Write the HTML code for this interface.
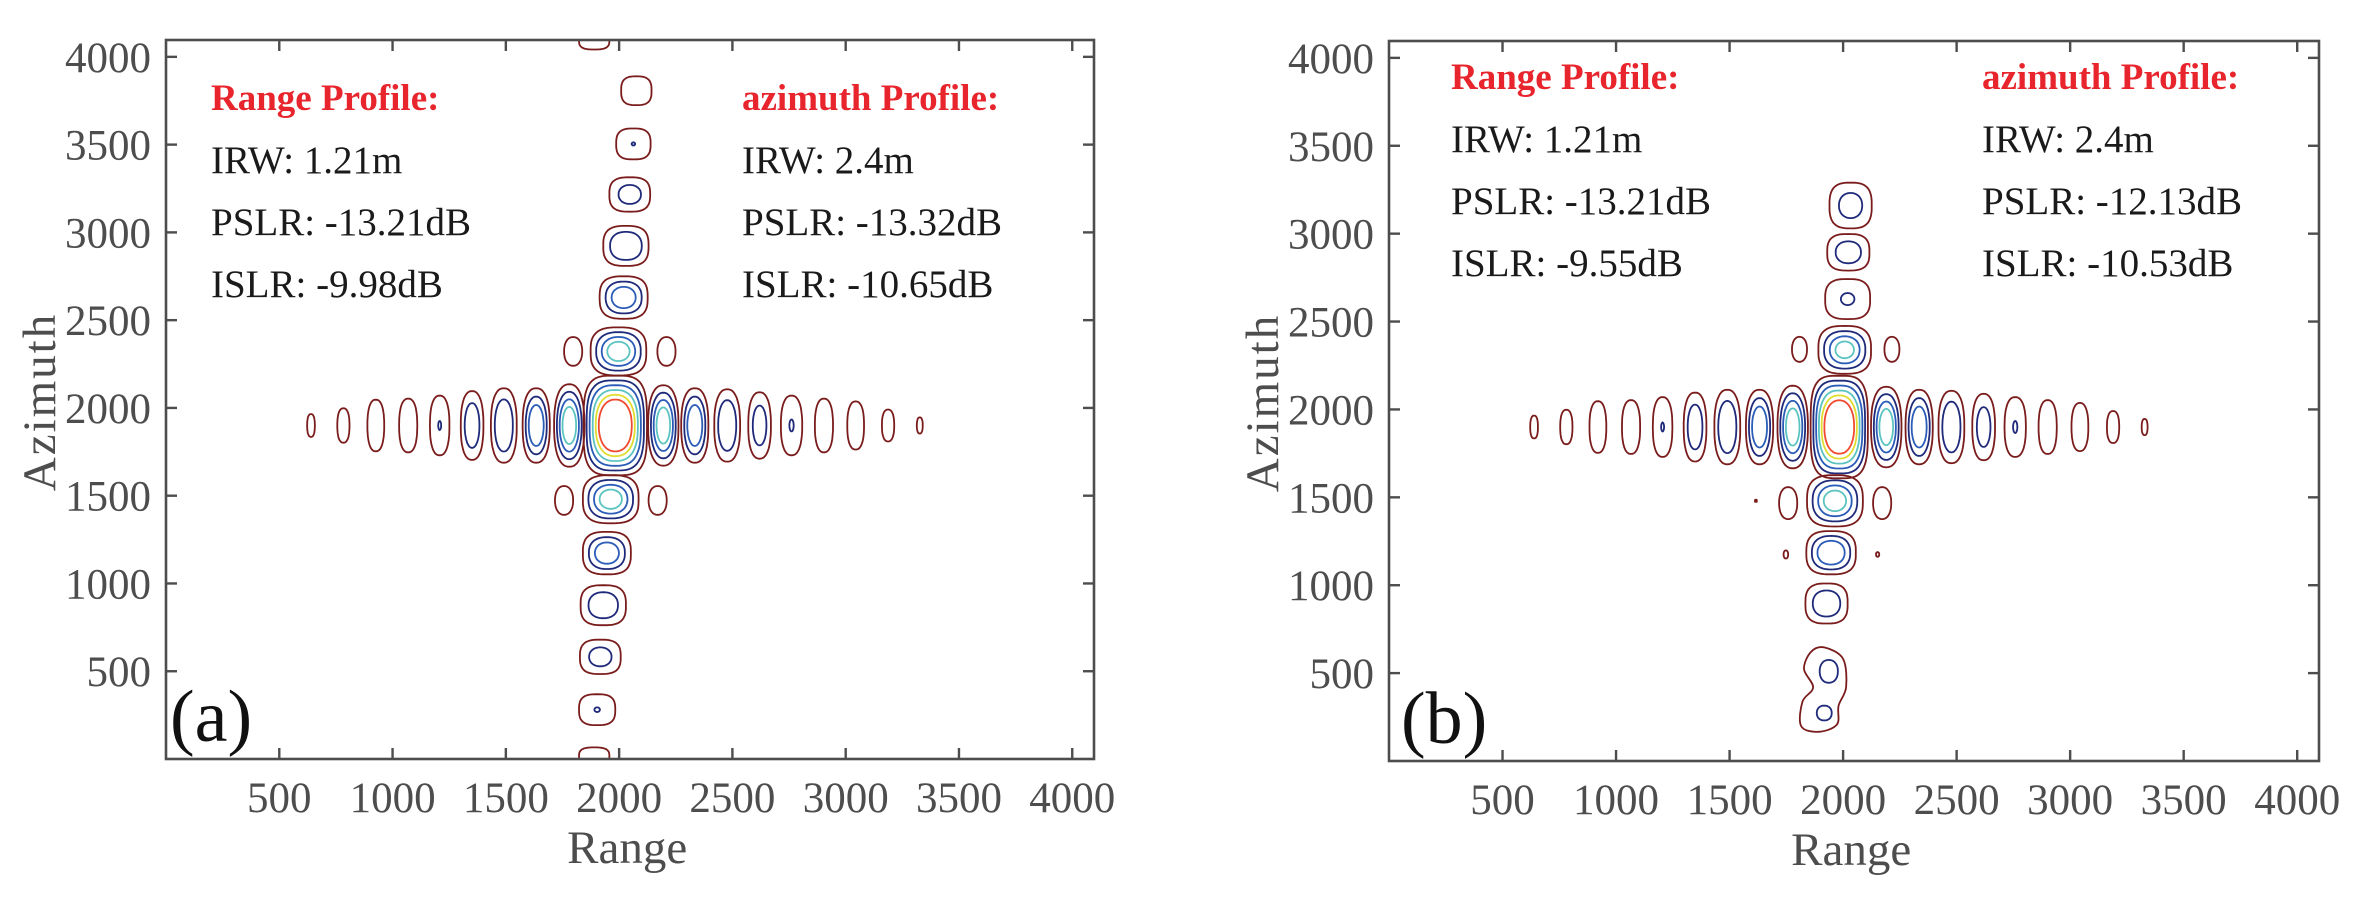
<!DOCTYPE html>
<html><head><meta charset="utf-8">
<style>
html,body{margin:0;padding:0;background:#fff;}
svg{display:block;}
text{font-family:"Liberation Serif",serif;}
</style></head>
<body>
<svg id="fig" width="2364" height="899" viewBox="0 0 2364 899" xmlns="http://www.w3.org/2000/svg"></svg>
<script>
// ---- Panel (a) data ----
const hX_a=[640,783,926,1069,1208,1351,1491,1634,1780,1983,2195,2334,2477,2620,2761,2904,3044,3187,3327];
const hY_a=[1900,1900,1900,1900,1900,1900,1900,1900,1900,1900,1900,1900,1900,1900,1900,1900,1900,1900,1900];
const hRX_a=[17,27,37,40,43,50,57,60,67,140,67,60,57,50,47,40,37,27,13];
const hRY_a=[65,98,147,153,170,196,212,212,235,284,229,212,206,189,170,153,137,91,46];
const hLev_a=[1,1,1,1,2,2,2,3,4,6,4,3,2,2,2,1,1,1,1];
const hIn_a=[1,1,1,1,0.15,0.65,0.7,0.55,0.45,0.52,0.45,0.55,0.7,0.6,0.2,1,1,1,1];
const vX_a=[1890,2076,2063,2047,2030,2020,1997,1963,1946,1930,1917,1903,1890];
const vY_a=[4091,3807,3504,3216,2923,2629,2322,1480,1173,876,582,281,17];
const vRX_a=[67,67,76,90,100,106,123,123,106,100,90,80,67];
const vRY_a=[49,82,88,98,114,121,137,137,121,114,98,88,49];
const vLev_a=[1,1,2,2,2,3,4,4,3,2,2,2,1];
const vIn_a=[1,1,0.1,0.55,0.7,0.5,0.4,0.4,0.5,0.65,0.55,0.15,1];
const sX_a=[1797,2209,1757,2170];
const sY_a=[2322,2322,1473,1473];
const sRX_a=[40,40,40,40];
const sRY_a=[82,82,82,82];
// ---- Panel (b) data ----
const hX_b=[639,781,920,1066,1205,1348,1490,1632,1778,1983,2190,2335,2477,2619,2758,2901,3043,3189,3328];
const hY_b=[1900,1900,1900,1900,1900,1900,1900,1900,1900,1900,1900,1900,1900,1900,1900,1900,1900,1900,1900];
const hRX_b=[17,27,37,40,43,50,57,60,67,126,67,60,57,50,47,40,37,27,13];
const hRY_b=[65,98,147,153,170,196,212,212,235,292,229,212,206,189,170,153,137,91,46];
const hLev_b=[1,1,1,1,2,2,2,3,4,6,4,3,2,2,2,1,1,1,1];
const hIn_b=[1,1,1,1,0.15,0.65,0.7,0.55,0.45,0.52,0.45,0.55,0.7,0.6,0.2,1,1,1,1];
const vX_b=[2033,2023,2020,2007,1964,1947,1927];
const vY_b=[3160,2894,2628,2339,1480,1185,896];
const vRX_b=[93,93,99,116,123,109,93];
const vRY_b=[130,104,114,136,146,123,114];
const vLev_b=[2,2,2,4,4,3,2];
const vIn_b=[0.55,0.6,0.3,0.35,0.4,0.55,0.65];
const sX_b=[1808,2215,1758,2172,1748,2152,1616];
const sY_b=[2342,2342,1467,1467,1175,1175,1480];
const sRX_b=[33,33,40,40,10,7,4];
const sRY_b=[71,71,91,91,23,13,6];
const blobX_b=[1917,2000,2013,1980,1973,1891,1815,1821,1868,1828,1858];
const blobY_b=[646,581,419,315,208,166,199,338,419,523,620];
const blobInX_b=[1937,1917];
const blobInY_b=[510,273];
const blobInRX_b=[40,33];
const blobInRY_b=[65,42];
const xTicks=[500,1000,1500,2000,2500,3000,3500,4000];
const yTicks=[500,1000,1500,2000,2500,3000,3500,4000];
const textA={range:["IRW: 1.21m","PSLR: -13.21dB","ISLR: -9.98dB"],az:["IRW: 2.4m","PSLR: -13.32dB","ISLR: -10.65dB"]};
const textB={range:["IRW: 1.21m","PSLR: -13.21dB","ISLR: -9.55dB"],az:["IRW: 2.4m","PSLR: -12.13dB","ISLR: -10.53dB"]};

const NS="http://www.w3.org/2000/svg";
const svg=document.getElementById('fig');
const COLORS=['#7a1c1c','#1f2a7a','#2a5cb8','#5cc4c0','#e0dc30','#f04a30'];
function mk(tag,attrs,parent){const e=document.createElementNS(NS,tag);for(const k in attrs)e.setAttribute(k,attrs[k]);(parent||svg).appendChild(e);return e;}

function superPath(cx,cy,rx,ry,p){
  let d='';const N=72;
  for(let i=0;i<=N;i++){const t=i/N*2*Math.PI;const c=Math.cos(t),s=Math.sin(t);
    const x=cx+rx*Math.sign(c)*Math.pow(Math.abs(c),2/p);
    const y=cy+ry*Math.sign(s)*Math.pow(Math.abs(s),2/p);
    d+=(i?'L':'M')+x.toFixed(1)+','+y.toFixed(1);}
  return d+'Z';
}
function catmull(pts){
  let d='';const n=pts.length;
  for(let i=0;i<n;i++){const p0=pts[(i-1+n)%n],p1=pts[i],p2=pts[(i+1)%n],p3=pts[(i+2)%n];
    if(i===0)d+='M'+p1[0].toFixed(1)+','+p1[1].toFixed(1);
    const c1=[p1[0]+(p2[0]-p0[0])/6,p1[1]+(p2[1]-p0[1])/6],c2=[p2[0]-(p3[0]-p1[0])/6,p2[1]-(p3[1]-p1[1])/6];
    d+='C'+c1[0].toFixed(1)+','+c1[1].toFixed(1)+' '+c2[0].toFixed(1)+','+c2[1].toFixed(1)+' '+p2[0].toFixed(1)+','+p2[1].toFixed(1);}
  return d+'Z';
}

function panel(id,L,T,R,B,hx,hy,hrx,hry,hlev,hin,vx,vy,vrx,vry,vlev,vin,sx_,sy_,srx,sry,blob,txt,textDX,textY,label,labelX){
  const W=R-L,H=B-T;
  const xs=v=>L+v/4096*W, ys=v=>B-v/4096*H, xl=v=>v/4096*W, yl=v=>v/4096*H;
  const g=mk('g',{});
  
  
  const clip=mk('clipPath',{id:'clip-'+id},g);
  mk('rect',{x:L,y:T,width:W,height:H},clip);
  const cg=mk('g',{'clip-path':'url(#clip-'+id+')'},g);
  
  
  function lobe(cx,cy,rx,ry,n,inner,name,sq){
    const lg=mk('g',{},cg);
    
    
    for(let k=0;k<n;k++){
      const f=n>1?1-(1-inner)*k/(n-1):1;
      const p=2+sq*Math.pow(f,3);
      mk('path',{d:superPath(xs(cx),ys(cy),xl(rx*f),yl(ry*f),p),fill:'none',stroke:COLORS[Math.min(k,5)],'stroke-width':1.8},lg);
    }
  }
  for(let i=0;i<hx.length;i++)lobe(hx[i],hy[i],hrx[i],hry[i],hlev[i],hin[i],'range-lobe-'+i,hlev[i]>=6?1.6:0.4);
  for(let i=0;i<vx.length;i++)lobe(vx[i],vy[i],vrx[i],vry[i],vlev[i],vin[i],'azimuth-lobe-'+i,0.9);
  for(let i=0;i<sx_.length;i++)lobe(sx_[i],sy_[i],srx[i],sry[i],1,1,'side-lobe-'+i,0.2);
  if(blob){
    const pts=blob.x.map((v,i)=>[xs(v),ys(blob.y[i])]);
    const bp=mk('path',{d:catmull(pts),fill:'none',stroke:COLORS[0],'stroke-width':1.8},cg);
    
    
    for(let i=0;i<blob.ix.length;i++){lobe(blob.ix[i],blob.iy[i],blob.irx[i],blob.iry[i],1,1,'merged-inner-'+i,0.2);
      cg.lastChild.querySelector('path').setAttribute('stroke',COLORS[1]);}
  }
  const box=mk('rect',{x:L,y:T,width:W,height:H,fill:'none',stroke:'#4d4d4d','stroke-width':2.6},g);
  
  
  xTicks.forEach(v=>{
    const x=xs(v);
    mk('line',{x1:x,y1:B,x2:x,y2:B-11,stroke:'#4d4d4d','stroke-width':2.4},g);
    mk('line',{x1:x,y1:T,x2:x,y2:T+11,stroke:'#4d4d4d','stroke-width':2.4},g);
    const t=mk('text',{x:x,y:B+53,'text-anchor':'middle','font-size':43,fill:'#4d4d4d'},g);
    t.textContent=v;
    
    
  });
  yTicks.forEach(v=>{
    const y=ys(v);
    mk('line',{x1:L,y1:y,x2:L+11,y2:y,stroke:'#4d4d4d','stroke-width':2.4},g);
    mk('line',{x1:R,y1:y,x2:R-11,y2:y,stroke:'#4d4d4d','stroke-width':2.4},g);
    const t=mk('text',{x:L-15,y:y+15,'text-anchor':'end','font-size':43,fill:'#4d4d4d'},g);
    t.textContent=v;
    
    
  });
  const xt=mk('text',{x:L+(W)*0.497,y:B+104,'text-anchor':'middle','font-size':47,fill:'#4d4d4d'},g);
  xt.textContent='Range';
  
  
  const yt=mk('text',{x:0,y:0,'text-anchor':'middle','font-size':47,fill:'#4d4d4d','letter-spacing':2,transform:'translate('+(L-111)+','+(T+362)+') rotate(-90)'},g);
  yt.textContent='Azimuth';
  
  
  const cols=[[L+textDX[0],'Range Profile:',txt.range,'range-profile'],[L+textDX[1],'azimuth Profile:',txt.az,'azimuth-profile']];
  cols.forEach(c=>{
    const h=mk('text',{x:c[0],y:textY,'font-size':37,'font-weight':'bold',fill:'#e8242c'},g);
    h.textContent=c[1];
    
    
    c[2].forEach((s,i)=>{
      const t=mk('text',{x:c[0],y:textY+63+62*i,'font-size':39,fill:'#1a1a1a'},g);
      t.textContent=s;
      
      
    });
  });
  const lb=mk('text',{x:labelX,y:B-18,'font-size':74,fill:'#111'},g);
  lb.textContent=label;
  
  
}

panel('a',166,40,1094,759,hX_a,hY_a,hRX_a,hRY_a,hLev_a,hIn_a,vX_a,vY_a,vRX_a,vRY_a,vLev_a,vIn_a,sX_a,sY_a,sRX_a,sRY_a,null,textA,[45,576],110,'(a)',170);
panel('b',1389,41,2319,761,hX_b,hY_b,hRX_b,hRY_b,hLev_b,hIn_b,vX_b,vY_b,vRX_b,vRY_b,vLev_b,vIn_b,sX_b,sY_b,sRX_b,sRY_b,
  {x:blobX_b,y:blobY_b,ix:blobInX_b,iy:blobInY_b,irx:blobInRX_b,iry:blobInRY_b},textB,[62,593],89,'(b)',1401);
</script>
</body></html>
